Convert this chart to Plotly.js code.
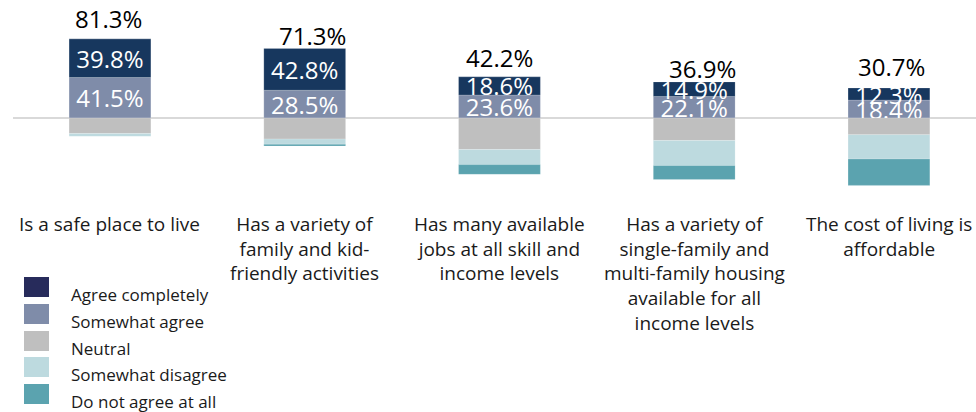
<!DOCTYPE html>
<html>
<head>
<meta charset="utf-8">
<script src="https://cdn.plot.ly/plotly-3.0.1.min.js"></script>
<style>html,body{margin:0;padding:0;background:#fff;}#chart{width:976px;height:412px;}</style>
</head>
<body>
<div id="chart"></div>
<script>
// ---- data ----
const categories = [
  "Is a safe place to live",
  "Has a variety of<br>family and kid-<br>friendly activities",
  "Has many available<br>jobs at all skill and<br>income levels",
  "Has a variety of<br>single-family and<br>multi-family housing<br>available for all<br>income levels",
  "The cost of living is<br>affordable"
];
const seriesNames = ["Agree completely", "Somewhat agree", "Neutral", "Somewhat disagree", "Do not agree at all"];
const agreeCompletely = [39.8, 42.8, 18.6, 14.9, 12.3];
const somewhatAgree   = [41.5, 28.5, 23.6, 22.1, 18.4];
const neutral         = [16.0, 21.6, 32.3, 23.0, 17.1];
const somewhatDisagree= [2.7, 5.3, 15.5, 25.7, 25.0];
const doNotAgree      = [0.0, 1.8, 10.0, 14.4, 27.0];
const totalAgreeLabels = ["81.3%", "71.3%", "42.2%", "36.9%", "30.7%"];

// ---- styles ----
const barColors = ["#17375E", "#7F8CA9", "#BFBFBF", "#BDDADF", "#5BA3AF"];
const legendColors = ["#272B5B", "#7F8CA9", "#BFBFBF", "#BDDADF", "#5BA3AF"];
const FONT = "'Open Sans', sans-serif";
const totalNudgeX = [-1, 8, 0, 8, 3];
const totalNudgeY = [2, -6, 1, -5, 3];

const W = 976, H = 412;
const M = {l: 13, r: 0, t: 20, b: 192};
const plotW = W - M.l - M.r, plotH = H - M.t - M.b;
const px2paperX = p => (p - M.l) / plotW;
const px2paperY = p => (H - M.b - p) / plotH;

const idx = categories.map((_, i) => i);
const pct = arr => arr.map(v => v.toFixed(1) + "%");
const neg = arr => arr.map(v => -v);

function barTrace(name, y, color, text) {
  const t = {
    type: "bar", x: idx, y: y, name: name, width: 0.42,
    marker: {color: color, line: {color: "rgba(255,255,255,0.35)", width: 0.5}},
    hoverinfo: "skip", showlegend: false
  };
  if (text) {
    t.text = text;
    t.textposition = "inside";
    t.insidetextanchor = "middle";
    t.textangle = 0;
    t.constraintext = "none";
    t.insidetextfont = {family: FONT, size: 24, color: "#FFFFFF"};
  } else {
    t.textposition = "none";
  }
  return t;
}

const data = [
  barTrace(seriesNames[1], somewhatAgree, barColors[1], pct(somewhatAgree)),
  barTrace(seriesNames[0], agreeCompletely, barColors[0], pct(agreeCompletely)),
  barTrace(seriesNames[2], neg(neutral), barColors[2]),
  barTrace(seriesNames[3], neg(somewhatDisagree), barColors[3]),
  barTrace(seriesNames[4], neg(doNotAgree), barColors[4])
];

const annotations = [];
idx.forEach(i => {
  annotations.push({
    x: i, y: agreeCompletely[i] + somewhatAgree[i], xref: "x", yref: "y",
    text: totalAgreeLabels[i], showarrow: false, yanchor: "bottom",
    xshift: totalNudgeX[i], yshift: totalNudgeY[i],
    font: {family: FONT, size: 24, color: "#000000"}
  });
  annotations.push({
    x: i, y: px2paperY(209), xref: "x", yref: "paper",
    text: categories[i], showarrow: false, yanchor: "top", align: "center",
    font: {family: FONT, size: 19, color: "#1a1a1a"}
  });
});

const shapes = [];
const legendRowsY = [287, 314, 341, 367, 394];
seriesNames.forEach((n, k) => {
  shapes.push({
    type: "rect", xref: "paper", yref: "paper",
    x0: px2paperX(24), x1: px2paperX(49),
    y0: px2paperY(legendRowsY[k] - 10), y1: px2paperY(legendRowsY[k] + 10),
    fillcolor: legendColors[k], line: {width: 0}
  });
  annotations.push({
    x: px2paperX(69), y: px2paperY(legendRowsY[k] + 7), xref: "paper", yref: "paper",
    text: n, showarrow: false, xanchor: "left", yanchor: "middle",
    font: {family: FONT, size: 17, color: "#1a1a1a"}
  });
});

const layout = {
  width: W, height: H,
  margin: M,
  paper_bgcolor: "#FFFFFF", plot_bgcolor: "#FFFFFF",
  barmode: "relative",
  showlegend: false,
  xaxis: {range: [-0.498, 4.447], showgrid: false, zeroline: false, showticklabels: false, ticks: "", fixedrange: true},
  yaxis: {range: [-104.6, 100.5], showgrid: false, zeroline: true, zerolinecolor: "#D9D9D9", zerolinewidth: 2,
          showticklabels: false, ticks: "", fixedrange: true},
  annotations: annotations,
  shapes: shapes
};

Plotly.newPlot("chart", data, layout, {displayModeBar: false, staticPlot: true});
</script>
</body>
</html>
